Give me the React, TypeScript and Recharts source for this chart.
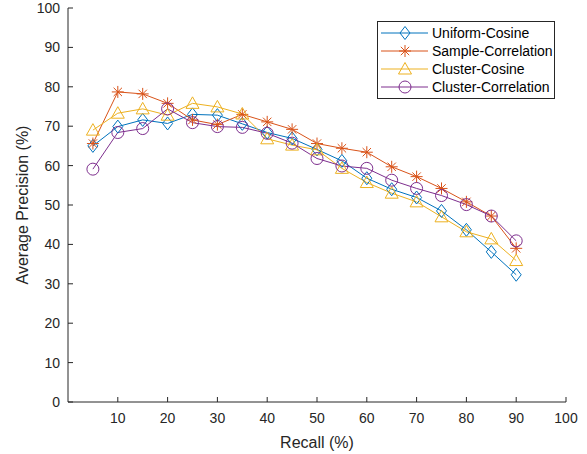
import React from 'react'
import { LineChart, Line, XAxis, YAxis, Label } from 'recharts'

const recall = [5, 10, 15, 20, 25, 30, 35, 40, 45, 50, 55, 60, 65, 70, 75, 80, 85, 90]
const uniformCosine = [65, 69.9, 71.6, 70.7, 73, 72.8, 70.6, 68.4, 66.9, 64.1, 61.2, 56.8, 54, 51.9, 48.5, 43.7, 38.1, 32.3]
const sampleCorrelation = [65.6, 78.7, 78.2, 75.8, 71.6, 70.4, 73, 71.1, 69.2, 65.6, 64.4, 63.4, 59.7, 57.2, 54.2, 50.8, 47.2, 39]
const clusterCosine = [69, 73.3, 74.4, 72.8, 75.8, 74.9, 73.1, 66.8, 65.2, 64, 59.3, 55.7, 53, 50.8, 47, 43.2, 41.4, 35.9]
const clusterCorrelation = [59.1, 68.4, 69.4, 74.4, 70.9, 69.9, 69.7, 68.2, 65.7, 61.8, 59.9, 59.3, 56.3, 54.2, 52.4, 50.1, 47.2, 40.9]
const xTicks = [10, 20, 30, 40, 50, 60, 70, 80, 90, 100]
const yTicks = [0, 10, 20, 30, 40, 50, 60, 70, 80, 90, 100]

const data = recall.map((r, i) => ({
  recall: r,
  uc: uniformCosine[i],
  sc: sampleCorrelation[i],
  cc: clusterCosine[i],
  ccr: clusterCorrelation[i],
}))

const FONT = '"Liberation Sans", Arial, sans-serif'
const AXIS = '#262626'

type Shape = 'diamond' | 'star' | 'triangle' | 'circle'

function Marker({ cx, cy, shape, color }: { cx: number; cy: number; shape: Shape; color: string }) {
  if (shape === 'diamond') {
    return <path d={`M${cx},${cy - 6.5} L${cx + 5},${cy} L${cx},${cy + 6.5} L${cx - 5},${cy} Z`} fill="none" stroke={color} strokeWidth={1} />
  }
  if (shape === 'triangle') {
    return <path d={`M${cx},${cy - 6.5} L${cx + 6.5},${cy + 5} L${cx - 6.5},${cy + 5} Z`} fill="none" stroke={color} strokeWidth={1} />
  }
  if (shape === 'circle') {
    return <circle cx={cx} cy={cy} r={6} fill="none" stroke={color} strokeWidth={1} />
  }
  const r = 6
  const d = r * 0.7
  return (
    <path
      d={`M${cx - r},${cy} L${cx + r},${cy} M${cx},${cy - r} L${cx},${cy + r} M${cx - d},${cy - d} L${cx + d},${cy + d} M${cx - d},${cy + d} L${cx + d},${cy - d}`}
      stroke={color}
      strokeWidth={1}
    />
  )
}

const series = [
  { key: 'uc', name: 'Uniform-Cosine', color: '#0072BD', shape: 'diamond' as Shape },
  { key: 'sc', name: 'Sample-Correlation', color: '#D95319', shape: 'star' as Shape },
  { key: 'cc', name: 'Cluster-Cosine', color: '#EDB120', shape: 'triangle' as Shape },
  { key: 'ccr', name: 'Cluster-Correlation', color: '#7E2F8E', shape: 'circle' as Shape },
]

function LegendBox() {
  return (
    <div
      style={{
        position: 'absolute',
        left: 377,
        top: 21,
        width: 178,
        border: `1px solid ${AXIS}`,
        background: '#fff',
        fontFamily: FONT,
        fontSize: 14,
        color: '#000',
        padding: '2px 0',
        boxSizing: 'border-box',
      }}
    >
      {series.map((s) => (
        <div key={s.key} style={{ display: 'flex', alignItems: 'center', height: 18 }}>
          <svg width={54} height={18} style={{ flex: 'none' }}>
            <line x1={3} y1={9} x2={50} y2={9} stroke={s.color} strokeWidth={1} />
            <Marker cx={27} cy={9} shape={s.shape} color={s.color} />
          </svg>
          <span style={{ whiteSpace: 'nowrap' }}>{s.name}</span>
        </div>
      ))}
    </div>
  )
}

export default function App() {
  return (
    <div style={{ position: 'absolute', left: 0, top: 0, width: 587, height: 454, background: '#fff' }}>
      <LineChart width={587} height={454} data={data} margin={{ top: 8, right: 21, bottom: 0, left: 0 }}>
        <XAxis
          xAxisId="b"
          dataKey="recall"
          type="number"
          domain={[0, 100]}
          ticks={xTicks}
          height={52}
          tickSize={-5}
          tickMargin={16}
          stroke={AXIS}
          tick={{ fill: AXIS, fontSize: 14, fontFamily: FONT }}
          interval={0}
        >
          <Label value="Recall (%)" position="insideBottom" offset={6} style={{ fill: AXIS, fontSize: 16, fontFamily: FONT }} />
        </XAxis>
        <XAxis
          xAxisId="t"
          orientation="top"
          dataKey="recall"
          type="number"
          domain={[0, 100]}
          ticks={xTicks}
          height={0}
          tickSize={-5}
          tick={false}
          stroke={AXIS}
          interval={0}
        />
        <YAxis
          yAxisId="l"
          type="number"
          domain={[0, 100]}
          ticks={yTicks}
          width={68}
          tickSize={-5}
          tickMargin={13}
          stroke={AXIS}
          tick={{ fill: AXIS, fontSize: 14, fontFamily: FONT }}
          interval={0}
        >
          <Label value="Average Precision (%)" angle={-90} position="insideLeft" offset={22} style={{ fill: AXIS, fontSize: 16, fontFamily: FONT, textAnchor: 'middle' }} />
        </YAxis>
        <YAxis
          yAxisId="r"
          orientation="right"
          type="number"
          domain={[0, 100]}
          ticks={yTicks}
          width={0}
          tickSize={-5}
          tick={false}
          stroke={AXIS}
          interval={0}
        />
        {series.map((s) => (
          <Line
            key={s.key}
            xAxisId="b"
            yAxisId="l"
            dataKey={s.key}
            name={s.name}
            stroke={s.color}
            strokeWidth={1}
            isAnimationActive={false}
            dot={(p: any) => <Marker key={`${s.key}-${p.index}`} cx={p.cx} cy={p.cy} shape={s.shape} color={s.color} />}
            activeDot={false}
          />
        ))}
      </LineChart>
      <LegendBox />
    </div>
  )
}
